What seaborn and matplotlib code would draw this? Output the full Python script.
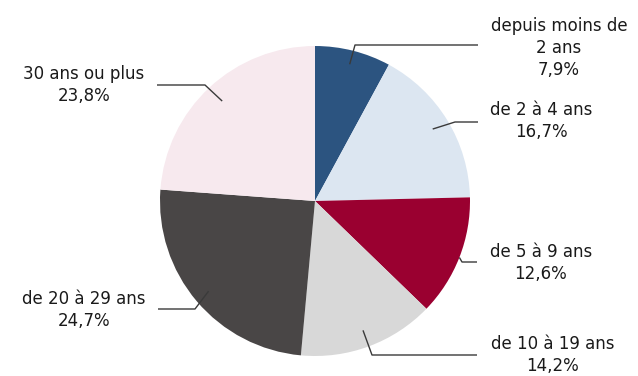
import matplotlib
matplotlib.use("Agg")
import matplotlib.pyplot as plt
import numpy as np
import seaborn as sns

# Répartition par ancienneté
categories = ["depuis moins de\n2 ans", "de 2 à 4 ans", "de 5 à 9 ans",
              "de 10 à 19 ans", "de 20 à 29 ans", "30 ans ou plus"]
shares = [7.9, 16.7, 12.6, 14.2, 24.7, 23.8]
share_labels = ["7,9%", "16,7%", "12,6%", "14,2%", "24,7%", "23,8%"]
palette = ["#2C5480", "#DCE6F1", "#9A0030", "#D8D8D8", "#494646", "#F7E9EE"]

sns.set_theme(style="white")
plt.rcParams["font.family"] = ["DejaVu Sans"]

W, H = 638, 376
fig = plt.figure(figsize=(W / 100, H / 100), dpi=100)
ax = fig.add_axes([0, 0, 1, 1])

cx, cy, R = 315, H - 201, 155
wedges, _ = ax.pie(shares, colors=palette, startangle=90, counterclock=False,
                   center=(cx, cy), radius=R, frame=True,
                   wedgeprops=dict(linewidth=0))
ax.set_xlim(0, W)
ax.set_ylim(0, H)
ax.set_aspect("equal")
ax.axis("off")

# label layout: (anchor radius factor, elbow point, line end, text centre x, text centre y) in pixels
layout = [
    (0.91, (355, 45), (478, 45), 559, 48),
    (0.89, (455, 122), (478, 122), 541, 121),
    (1.00, (462, 262), (477, 262), 541, 263),
    (0.89, (372, 355), (477, 355), 553, 355),
    (0.90, (195, 309), (158, 309), 84, 310),
    (0.88, (205, 85), (157, 85), 84, 85),
]

for w, cat, lab, (rf, elbow, end, tx, ty) in zip(wedges, categories, share_labels, layout):
    mid = np.deg2rad((w.theta1 + w.theta2) / 2)
    ax_x = cx + rf * R * np.cos(mid)
    ax_y = cy + rf * R * np.sin(mid)
    xs = [ax_x, elbow[0], end[0]]
    ys = [ax_y, H - elbow[1], H - end[1]]
    ax.plot(xs, ys, color="#3A3A3A", lw=1.0, solid_capstyle="butt")
    ax.text(tx, H - ty, f"{cat}\n{lab}", ha="center", va="center",
            multialignment="center", fontsize=12, color="#1A1A1A",
            linespacing=1.3)

fig.savefig("out.png", dpi=100, facecolor="white")
